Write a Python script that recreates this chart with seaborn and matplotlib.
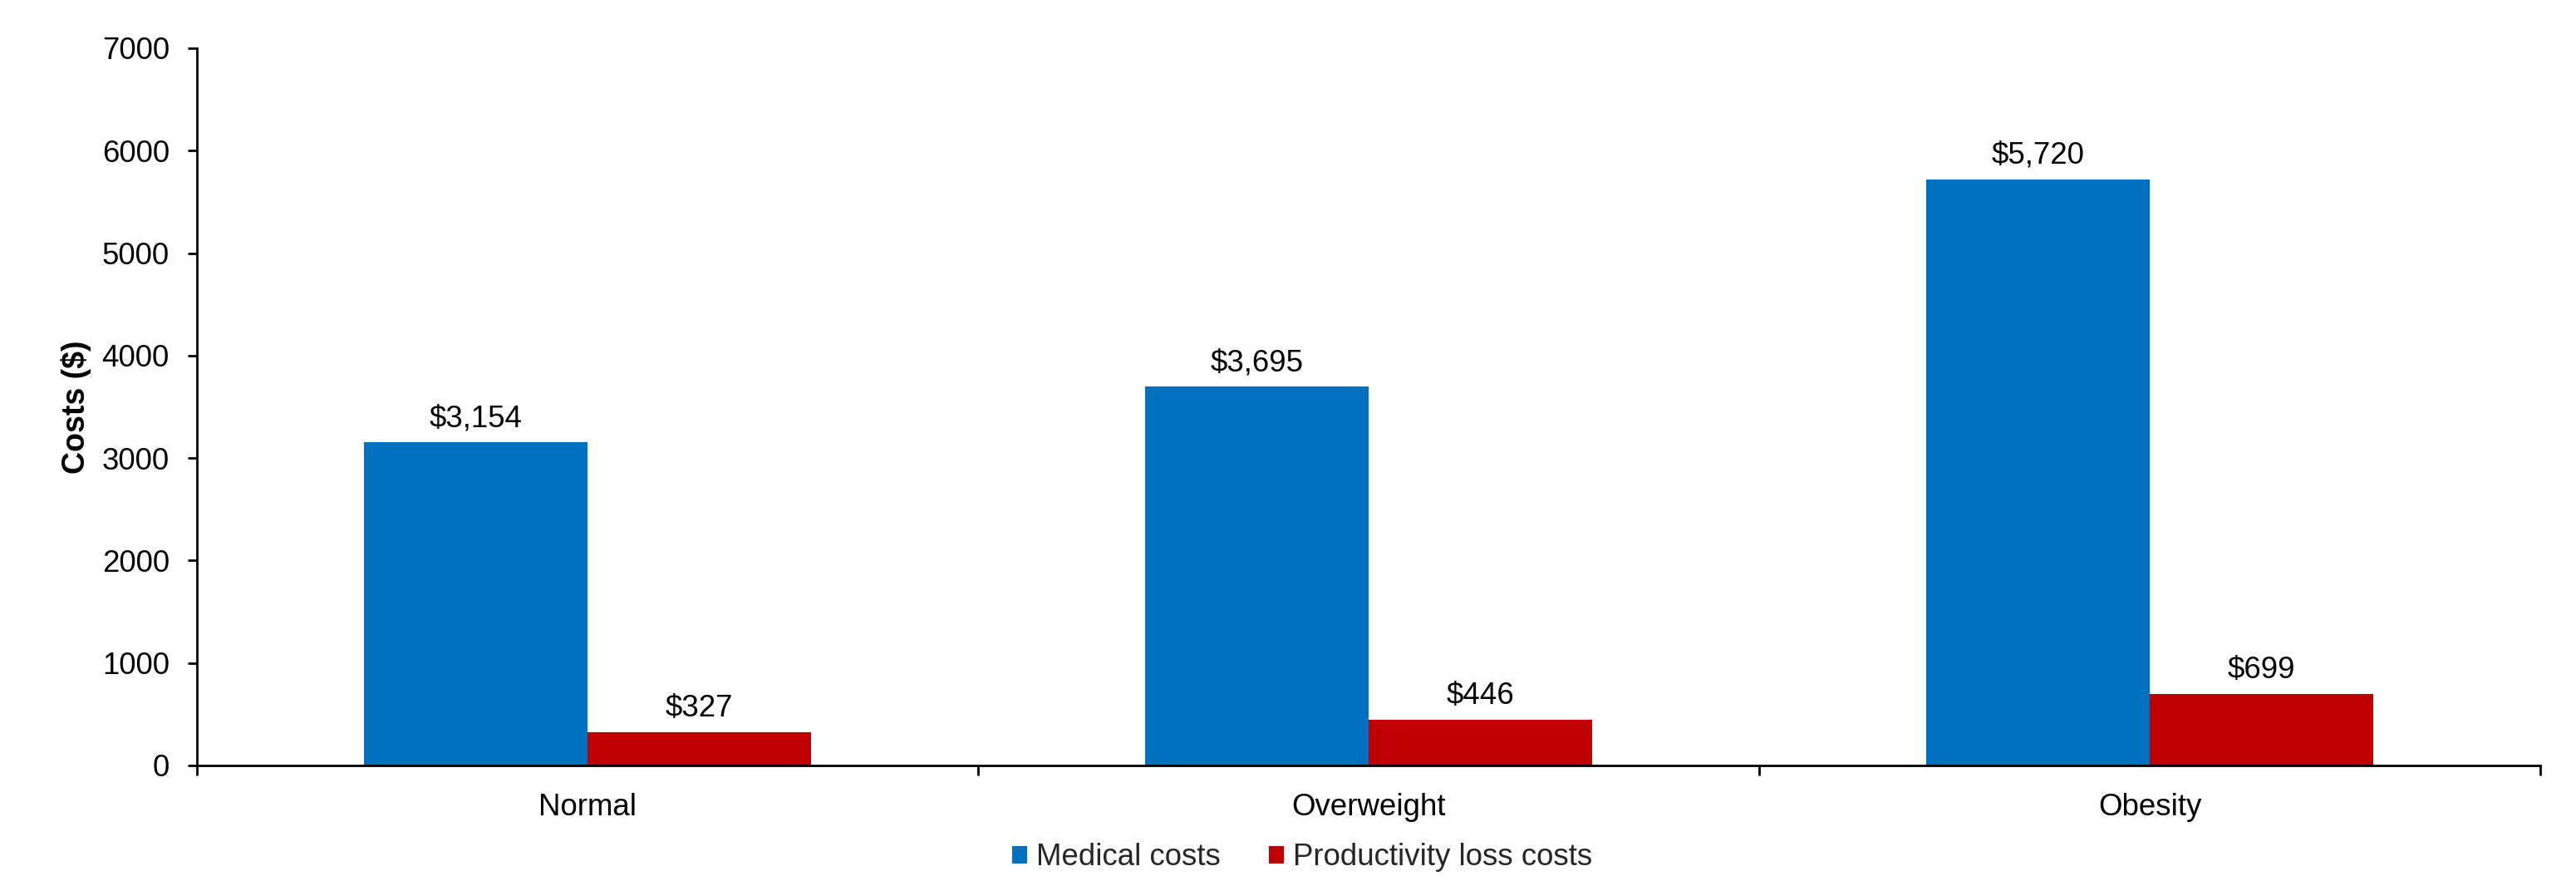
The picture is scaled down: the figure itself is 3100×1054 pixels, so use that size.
import matplotlib
matplotlib.use("Agg")
import matplotlib.pyplot as plt
import seaborn as sns
import pandas as pd

# ---- data ----
categories = ["Normal", "Overweight", "Obesity"]
series_names = ["Medical costs", "Productivity loss costs"]
medical_costs = [3154, 3695, 5720]
productivity_costs = [327, 446, 699]
y_ticks = [0, 1000, 2000, 3000, 4000, 5000, 6000, 7000]
series_colors = ["#0070C0", "#C00000"]

sns.set_theme(style="ticks")
plt.rcParams["font.family"] = ["Liberation Sans", "DejaVu Sans"]

FS = 13.2

df = pd.DataFrame({
    "Category": categories * 2,
    "Series": [series_names[0]] * 3 + [series_names[1]] * 3,
    "Cost": medical_costs + productivity_costs,
})

fig = plt.figure(figsize=(15.5, 5.27), dpi=200)
ax = fig.add_axes([0.0765, 0.1262, 0.9096, 0.8188])

sns.barplot(data=df, x="Category", y="Cost", hue="Series",
            order=categories, hue_order=series_names,
            palette=series_colors, saturation=1, width=0.572, gap=0,
            errorbar=None, linewidth=0, ax=ax)

for cont, vals in zip(ax.containers, [medical_costs, productivity_costs]):
    ax.bar_label(cont, labels=[f"${v:,}" for v in vals], padding=4,
                 fontsize=FS, color="black")

ax.set_xlim(-0.5, 2.5)
ax.set_ylim(0, 7000)
ax.set_yticks(y_ticks)
ax.set_yticklabels([str(t) for t in y_ticks])
ax.set_xticks(range(len(categories)))
ax.set_xticklabels(categories)
ax.set_xticks([-0.5, 0.5, 1.5, 2.5], minor=True)

ax.tick_params(axis="y", direction="out", length=4, width=1, pad=8,
               labelsize=FS, colors="black")
ax.tick_params(axis="x", which="major", length=0, pad=12, labelsize=FS,
               colors="black")
ax.tick_params(axis="x", which="minor", direction="out", length=4.3,
               width=1, color="black")

for s in ["top", "right"]:
    ax.spines[s].set_visible(False)
for s in ["left", "bottom"]:
    ax.spines[s].set_color("black")
    ax.spines[s].set_linewidth(1)

ax.set_xlabel("")
ax.set_ylabel("Costs ($)", fontsize=FS + 0.3, fontweight="bold", color="black")
ax.yaxis.set_label_coords(-0.045, 0.5)

handles, labels = ax.get_legend_handles_labels()
if ax.legend_ is not None:
    ax.legend_.remove()
fig.legend(handles, labels, loc="center", bbox_to_anchor=(0.5055, 0.021),
           ncol=2, frameon=False, handlelength=0.49, handleheight=0.49,
           handletextpad=0.3, columnspacing=1.58, fontsize=FS)

fig.savefig("out.png", dpi=200, facecolor="white")
